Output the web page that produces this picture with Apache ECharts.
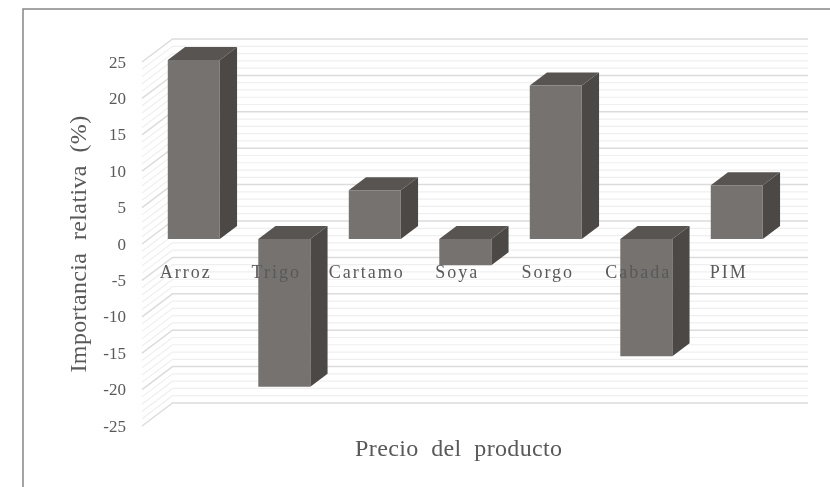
<!DOCTYPE html>
<html><head><meta charset="utf-8">
<style>
html,body{margin:0;padding:0;background:#fff;overflow:hidden}
#chart{width:830px;height:487px;filter:blur(0.6px)}
#chart text{white-space:pre;letter-spacing:0}
#chart text[style*="18px"]{letter-spacing:2px}
#chart text[style*="24px"]{letter-spacing:0.35px}
</style>
<script src="https://cdn.jsdelivr.net/npm/echarts@6/dist/echarts.min.js"></script>
</head><body><div id="chart"></div>
<script>
const categories = ['Arroz','Trigo','Cartamo','Soya','Sorgo','Cabada','PIM'];
const values = [24.6,-20.3,6.7,-3.6,21.1,-16.1,7.4];
const majorTicks = [-25,-20,-15,-10,-5,0,5,10,15,20,25];
const minorTicks = [];
for (let v=-25; v<=25; v++) if (v%5!==0) minorTicks.push(v);
const xTitle = 'Precio  del  producto';
const yTitle = 'Importancia  relativa  (%)';

// oblique projection of the depth axis, in px
const DEPTH = {x:30.5, y:-23};
const BAR_FROM = 0.215, BAR_TO = 0.78, BAR_W = 0.575;

function wallItem(color, width){
  return function(params, api){
    const v = api.value(0), rect = params.coordSys;
    const y = api.coord([0, v])[1];
    const x0 = rect.x, x1 = x0 + DEPTH.x, y1 = y + DEPTH.y, x2 = rect.x + rect.width + DEPTH.x + 2;
    return {type:'polyline', shape:{points:[[x0,y],[x1,y1],[x2,y1]]},
      style:{fill:null, stroke:color, lineWidth:width}, silent:true};
  };
}
function barItem(params, api){
  const i = api.value(0), v = api.value(1);
  const c = api.coord([i, v]), z = api.coord([i, 0]);
  const w = api.size([1,0])[0]*BAR_W;
  const fx = DEPTH.x*BAR_FROM, fy = DEPTH.y*BAR_FROM;
  const bx = DEPTH.x*BAR_TO, by = DEPTH.y*BAR_TO;
  const l = c[0]-w/2+fx, r = c[0]+w/2+fx;
  const yTop = Math.min(c[1],z[1])+fy, yBot = Math.max(c[1],z[1])+fy;
  const dx = bx-fx, dy = by-fy;
  return {type:'group', silent:true, children:[
    {type:'polygon', shape:{points:[[l,yTop],[l+dx,yTop+dy],[r+dx,yTop+dy],[r,yTop]]}, style:{fill:'#585452'}},
    {type:'polygon', shape:{points:[[r,yTop],[r+dx,yTop+dy],[r+dx,yBot+dy],[r,yBot]]}, style:{fill:'#4c4846'}},
    {type:'rect', shape:{x:l,y:yTop,width:w,height:yBot-yTop}, style:{fill:'#767270'}}
  ]};
}
const font = 'Liberation Serif';
const chart = echarts.init(document.getElementById('chart'), null, {renderer:'svg'});
chart.setOption({
  animation:false,
  backgroundColor:'#fff',
  grid:{left:142, top:62, width:633.5, height:364, outerBoundsMode:'none', containLabel:false},
  xAxis:{type:'category', data:categories, z:5, offset:-182,
    axisLine:{show:false}, axisTick:{show:false},
    axisLabel:{interval:0, margin:19, padding:[0,3,0,0], fontFamily:font, fontSize:18, color:'#595959'},
    name:xTitle, nameLocation:'middle', nameGap:192,
    nameTextStyle:{fontFamily:font, fontSize:24, color:'#595959'}},
  yAxis:{type:'value', min:-25, max:25, interval:5, z:5,
    axisLine:{show:false}, axisTick:{show:false}, splitLine:{show:false},
    axisLabel:{margin:16, fontFamily:font, fontSize:17, color:'#595959'},
    name:yTitle, nameLocation:'middle', nameGap:52,
    nameTextStyle:{fontFamily:font, fontSize:24, color:'#595959'}},
  graphic:[
    {type:'polyline', silent:true, shape:{points:[[23,487],[23,9],[830,9]]}, style:{fill:null, stroke:'#868686', lineWidth:1.5}}
  ],
  series:[
    {type:'custom', z:1, clip:false, coordinateSystem:'cartesian2d', renderItem:wallItem('#efefef',1.2),
     encode:{y:0}, data:minorTicks.map(v=>[v])},
    {type:'custom', z:1, clip:false, coordinateSystem:'cartesian2d', renderItem:wallItem('#dcdcdc',1.5),
     encode:{y:0}, data:majorTicks.map(v=>[v])},
    {type:'custom', z:2, clip:false, coordinateSystem:'cartesian2d', renderItem:barItem,
     encode:{x:0,y:1}, data:values.map((v,i)=>[i,v])}
  ]
});
</script></body></html>
